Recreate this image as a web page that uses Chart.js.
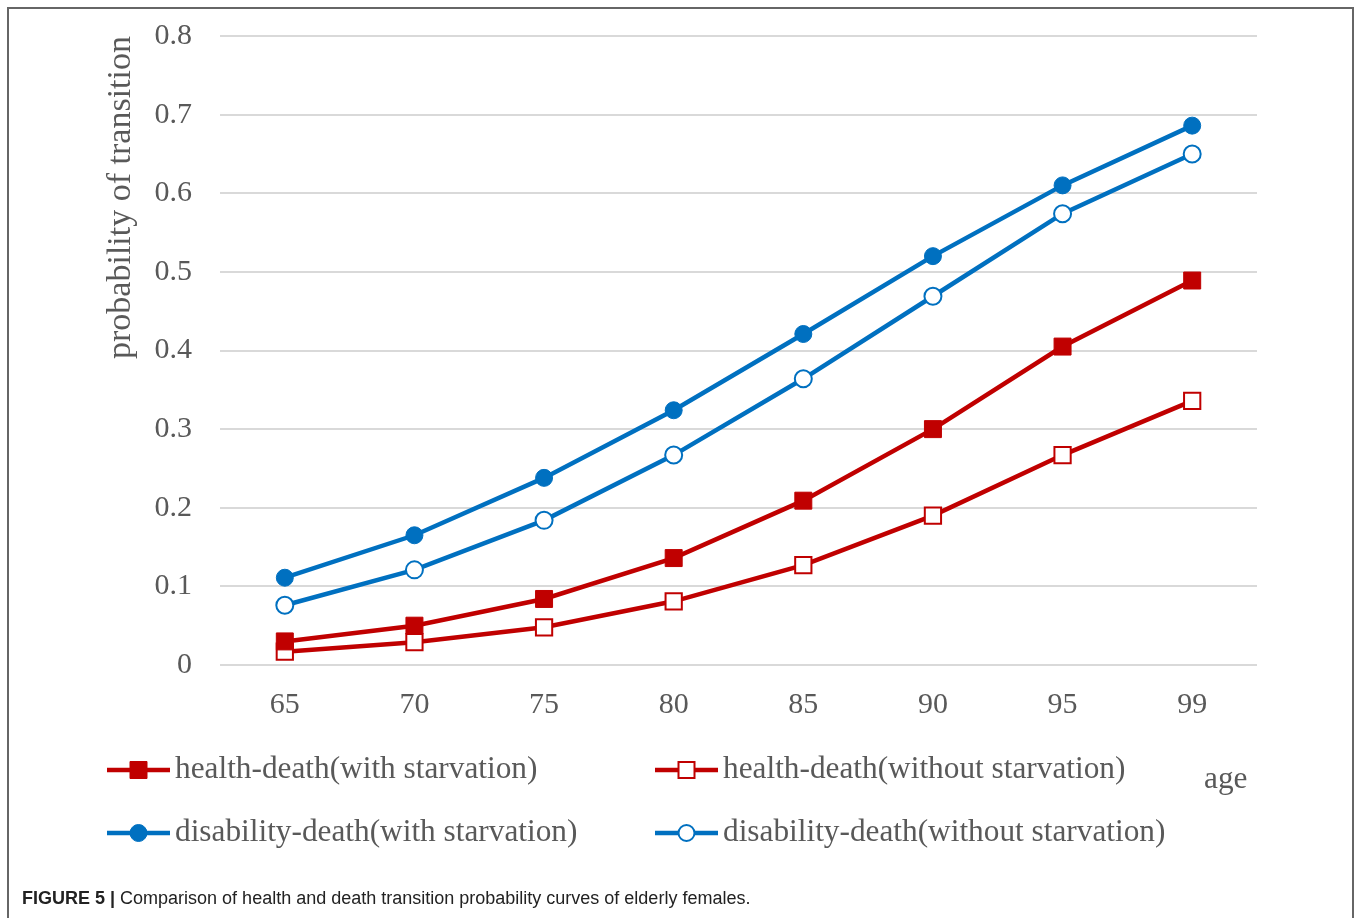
<!DOCTYPE html>
<html>
<head>
<meta charset="utf-8">
<script src="https://cdn.jsdelivr.net/npm/chart.js@4/dist/chart.umd.min.js"></script>
<style>
  html, body { margin: 0; padding: 0; background: #ffffff; width: 1357px; height: 918px; overflow: hidden; }
  #frame { position: absolute; left: 7px; top: 7px; width: 1343px; height: 940px;
           border: 2px solid #666666; border-bottom: none; }
  #chart { position: absolute; left: 0; top: 0; }
  #caption { position: absolute; left: 22px; top: 888px; font-family: "Liberation Sans", Arial, sans-serif;
             font-size: 18px; line-height: 20px; color: #222222; white-space: nowrap; }
  #caption b { font-weight: bold; }
</style>
</head>
<body>
<div id="frame"></div>
<canvas id="chart" width="1357" height="918"></canvas>
<div id="caption"><b>FIGURE 5 |</b> Comparison of health and death transition probability curves of elderly females.</div>
<script>
// Age groups along the x axis
const ages = ['65', '70', '75', '80', '85', '90', '95', '99'];

// Transition probabilities by age
const healthDeathWith = [0.030, 0.050, 0.084, 0.136, 0.209, 0.300, 0.405, 0.489];
const healthDeathWithout = [0.017, 0.029, 0.048, 0.081, 0.127, 0.190, 0.267, 0.336];
const disabilityDeathWith = [0.111, 0.165, 0.238, 0.324, 0.421, 0.520, 0.610, 0.686];
const disabilityDeathWithout = [0.076, 0.121, 0.184, 0.267, 0.364, 0.469, 0.574, 0.650];

// Series names
const seriesNames = [
  'health-death(with starvation)',
  'health-death(without starvation)',
  'disability-death(with starvation)',
  'disability-death(without starvation)'
];

// Value axis labels
const yTickLabels = ['0', '0.1', '0.2', '0.3', '0.4', '0.5', '0.6', '0.7', '0.8'];

const RED = '#C00000';
const BLUE = '#0070C0';
const TEXT = '#595959';
const SERIF = '"Liberation Serif", "Times New Roman", serif';

function series(label, data, color, style, filled) {
  const isRect = style === 'rect';
  return {
    label: label,
    data: data,
    borderColor: color,
    backgroundColor: color,
    borderWidth: 4.5,
    pointStyle: style,
    pointRadius: isRect ? (filled ? 12 : 11.5) : (filled ? 8.5 : 8.5),
    pointHoverRadius: isRect ? 12 : 9,
    pointBackgroundColor: filled ? color : '#ffffff',
    pointBorderColor: color,
    pointBorderWidth: filled ? 1 : 2,
    tension: 0,
    fill: false,
    _filled: filled
  };
}

// Two-column legend under the plot, plus the "age" axis caption
const legendPlugin = {
  id: 'gridLegend',
  afterDraw(chart) {
    const ctx = chart.ctx;
    const cols = [107, 655];
    const rows = [770, 833];
    const lineLen = 63;
    ctx.save();
    chart.data.datasets.forEach((ds, i) => {
      const x0 = cols[i % 2];
      const y = rows[Math.floor(i / 2)];
      const cx = x0 + lineLen / 2;
      ctx.strokeStyle = ds.borderColor;
      ctx.lineWidth = 4.5;
      ctx.beginPath();
      ctx.moveTo(x0, y);
      ctx.lineTo(x0 + lineLen, y);
      ctx.stroke();
      ctx.fillStyle = ds._filled ? ds.borderColor : '#ffffff';
      ctx.lineWidth = ds._filled ? 1 : 2;
      ctx.beginPath();
      if (ds.pointStyle === 'rect') {
        const s = ds._filled ? 8.5 : 8;
        ctx.rect(cx - s, y - s, 2 * s, 2 * s);
      } else {
        const r = ds._filled ? 8.5 : 8;
        ctx.arc(cx, y, r, 0, Math.PI * 2);
      }
      ctx.fill();
      ctx.stroke();
      ctx.fillStyle = TEXT;
      ctx.font = '31.3px ' + SERIF;
      ctx.textAlign = 'left';
      ctx.textBaseline = 'middle';
      ctx.fillText(ds.label, x0 + lineLen + 5, y);
    });
    ctx.fillStyle = TEXT;
    ctx.font = '31.3px ' + SERIF;
    ctx.textAlign = 'left';
    ctx.textBaseline = 'middle';
    ctx.fillText('age', 1204, 780);
    ctx.restore();
  }
};

new Chart(document.getElementById('chart'), {
  type: 'line',
  data: {
    labels: ages,
    datasets: [
      series(seriesNames[0], healthDeathWith, RED, 'rect', true),
      series(seriesNames[1], healthDeathWithout, RED, 'rect', false),
      series(seriesNames[2], disabilityDeathWith, BLUE, 'circle', true),
      series(seriesNames[3], disabilityDeathWithout, BLUE, 'circle', false)
    ]
  },
  options: {
    responsive: false,
    animation: false,
    layout: { padding: { left: 0, right: 100, top: 36, bottom: 193 } },
    plugins: {
      legend: { display: false },
      tooltip: { enabled: false },
      title: { display: false }
    },
    scales: {
      x: {
        offset: true,
        grid: { display: false, drawTicks: false },
        border: { display: false },
        ticks: { color: TEXT, font: { family: SERIF, size: 30 }, padding: 22, maxRotation: 0 },
        afterFit(scale) { scale.height = 60; }
      },
      y: {
        min: 0,
        max: 0.8,
        grid: { color: '#d9d9d9', lineWidth: 2, drawTicks: false },
        border: { display: false },
        ticks: {
          stepSize: 0.1,
          color: TEXT,
          font: { family: SERIF, size: 30 },
          padding: 28,
          callback: (value, index) => yTickLabels[index]
        },
        title: {
          display: true,
          text: 'probability of transition',
          align: 'end',
          color: TEXT,
          font: { family: SERIF, size: 34 },
          padding: { top: 101, bottom: 0 }
        },
        afterFit(scale) {
          scale.width = 220;
          scale.paddingTop = 0;
          scale.paddingBottom = 0;
        }
      }
    }
  },
  plugins: [legendPlugin]
});
</script>
</body>
</html>
